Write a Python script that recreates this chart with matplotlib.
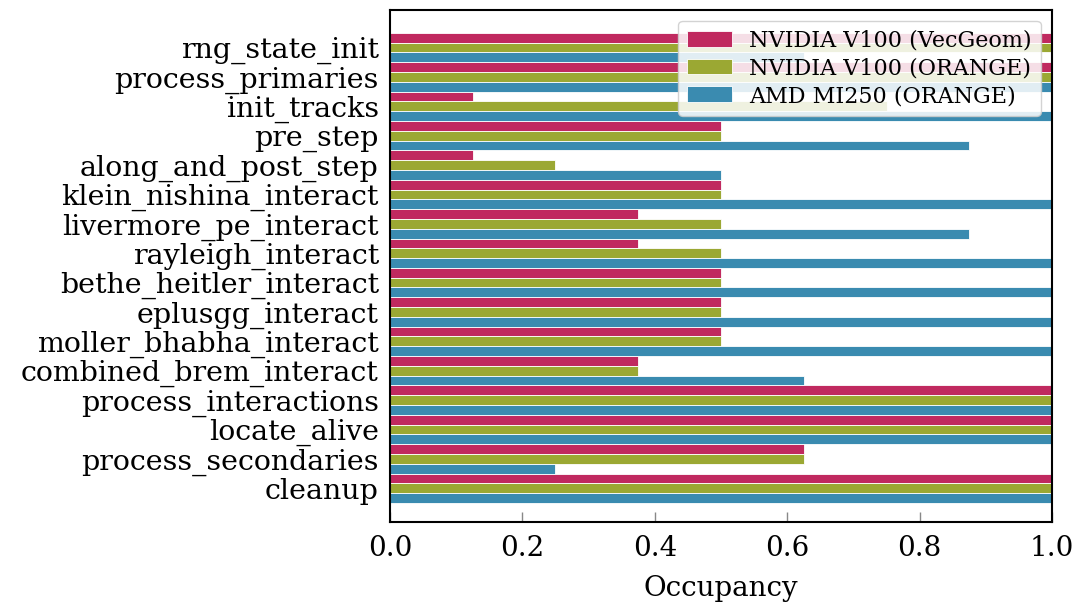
import matplotlib
matplotlib.use("Agg")
import matplotlib.pyplot as plt
import numpy as np

categories = [
    "rng_state_init", "process_primaries", "init_tracks", "pre_step",
    "along_and_post_step", "klein_nishina_interact", "livermore_pe_interact",
    "rayleigh_interact", "bethe_heitler_interact", "eplusgg_interact",
    "moller_bhabha_interact", "combined_brem_interact", "process_interactions",
    "locate_alive", "process_secondaries", "cleanup",
]
series_names = ["NVIDIA V100 (VecGeom)", "NVIDIA V100 (ORANGE)", "AMD MI250 (ORANGE)"]
v100_vecgeom = [1.0, 1.0, 0.125, 0.5, 0.125, 0.5, 0.375, 0.375, 0.5, 0.5, 0.5, 0.375, 1.0, 1.0, 0.625, 1.0]
v100_orange = [1.0, 1.0, 0.75, 0.5, 0.25, 0.5, 0.5, 0.5, 0.5, 0.5, 0.5, 0.375, 1.0, 1.0, 0.625, 1.0]
mi250_orange = [0.625, 1.0, 1.0, 0.875, 0.5, 1.0, 0.875, 1.0, 1.0, 1.0, 1.0, 0.625, 1.0, 1.0, 0.25, 1.0]
xticks = [0.0, 0.2, 0.4, 0.6, 0.8, 1.0]

colors = ["#C0295F", "#9BA833", "#3A8BB0"]

plt.rcParams['font.family'] = ['DejaVu Serif']
fig = plt.figure(figsize=(10.79, 6.06), dpi=100)
ax = fig.add_axes([0.3614, 0.1386, 0.6136, 0.845])

y = np.arange(len(categories))
h = 1.0 / 3
for k, (vals, name, c) in enumerate(zip([v100_vecgeom, v100_orange, mi250_orange], series_names, colors)):
    ax.barh(y + (k - 1) * h, vals, height=h, color=c, edgecolor='white',
            linewidth=0.6, label=name)

ax.set_yticks(y)
ax.set_yticklabels(categories, fontsize=20.5)
ax.tick_params(axis='y', length=0, pad=8)
ax.set_xticks(xticks)
ax.set_xticklabels([f"{t:.1f}" for t in xticks], fontsize=20)
ax.tick_params(axis='x', direction='in', length=7, color='#888888', width=1, pad=9)
ax.set_xlim(0, 1.0)
ax.set_ylim(16.15, -1.28)
ax.set_xlabel("Occupancy", fontsize=20, labelpad=10)
for s in ax.spines.values():
    s.set_linewidth(1.5)

leg = ax.legend(loc='upper right', fontsize=16, framealpha=0.85, fancybox=True,
                borderaxespad=0.5, handlelength=2.0, labelspacing=0.25,
                borderpad=0.4)

fig.savefig("out.png", dpi=100)
